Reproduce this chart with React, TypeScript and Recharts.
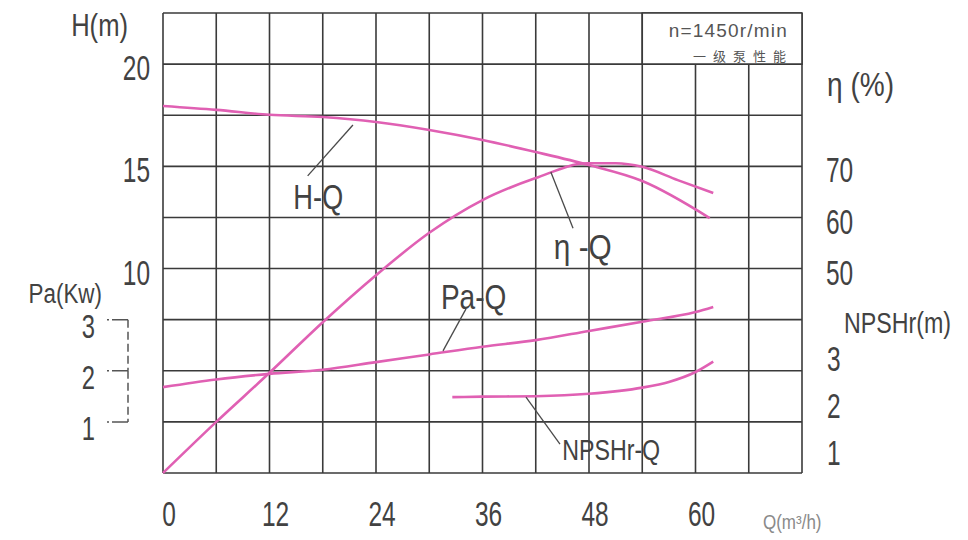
import React from 'react'
import {
  LineChart,
  Line,
  XAxis,
  YAxis,
  CartesianGrid,
  ReferenceLine,
  ReferenceDot,
  ReferenceArea,
} from 'recharts'

const CHART_W = 968
const CHART_H = 540
const PLOT_H = 460

// flow Q (m3/h) – grid every 6, labels every 12
const qTicks = [0, 6, 12, 18, 24, 30, 36, 42, 48, 54, 60, 66, 72]
const qLabels = [0, 12, 24, 36, 48, 60]

// H-Q
const headQ = [0, 6, 12, 18, 24, 30, 36, 42, 48, 54, 61.6]
const headH = [17.95, 17.76, 17.52, 17.41, 17.17, 16.78, 16.29, 15.7, 15.06, 14.28, 12.47]

// η-Q
const effQ = [0, 6, 12, 18, 24, 30, 36, 42, 47.8, 51, 54, 58, 62]
const effEta = [10, 20, 29.6, 39.5, 48.7, 57, 63.4, 67.7, 70.6, 70.6, 69.9, 67.3, 64.8]

// Pa-Q
const powerQ = [0, 6, 12, 18, 24, 30, 36, 42, 48, 54, 60, 62]
const powerPa = [1.68, 1.83, 1.94, 2.02, 2.17, 2.32, 2.47, 2.6, 2.78, 2.96, 3.15, 3.25]

// NPSHr-Q
const npshQ = [32.6, 36, 42, 48, 54, 57, 60, 62]
const npshR = [2.1, 2.11, 2.12, 2.17, 2.3, 2.42, 2.63, 2.85]

const hTicks = [0, 2.5, 5, 7.5, 10, 12.5, 15, 17.5, 20, 22.5]
const hLabels = [10, 15, 20]
const etaTicks = [50, 60, 70]
const paTicks = [1, 2, 3]
const npshTicks = [1, 2, 3]

const toRows = (xs: number[], ys: number[]) => xs.map((q, i) => ({ q, v: ys[i] }))

const FONT = "'Liberation Sans', Arial, sans-serif"
const INK = '#424242'
const GRID = '#3a3a3a'
const CURVE = '#e060b3'
const LEADER = '#4a4a4a'

// condensed-looking text: regular sans squeezed horizontally
function Txt({ x, y, size, sx = 0.7, anchor = 'start', fill = INK, family = FONT, spacing, children }: any) {
  return (
    <text
      transform={`translate(${x} ${y}) scale(${sx} 1)`}
      textAnchor={anchor}
      dominantBaseline="central"
      fontSize={size}
      fontFamily={family}
      letterSpacing={spacing}
      fill={fill}
    >
      {children}
    </text>
  )
}

function QTick({ x, y, payload }: any) {
  if (!qLabels.includes(payload.value)) return <g />
  return <Txt x={x + 6} y={y + 41} size={35} anchor="middle">{payload.value}</Txt>
}

function HTick({ x, y, payload }: any) {
  if (!hLabels.includes(payload.value)) return <g />
  return <Txt x={x - 13} y={y + 4} size={35} anchor="end">{payload.value}</Txt>
}

function RightTick({ x, y, payload }: any) {
  return <Txt x={x + 24} y={y + 4} size={35}>{payload.value}</Txt>
}

// Pa ticks with the little dashed bracket
function PaTick({ x, y, payload }: any) {
  const v = payload.value
  const step = PLOT_H / 9
  return (
    <g>
      <Txt x={x - 33} y={y + 7} size={33} sx={0.72} anchor="end">{v}</Txt>
      <line x1={x - 21} x2={x} y1={y} y2={y} stroke="#555" strokeWidth={1.5} strokeDasharray="2 3 16" />
      {v > 1 && (
        <line x1={x} x2={x} y1={y} y2={y + step} stroke="#555" strokeWidth={1.5} strokeDasharray="8 4" />
      )}
    </g>
  )
}

function BoxLabel({ viewBox }: any) {
  const { x, y, width } = viewBox
  const r = x + width - 14
  return (
    <g>
      <Txt x={r} y={y + 17} size={19} sx={1} spacing={1.2} anchor="end" fill="#555">n=1450r/min</Txt>
      <text x={r + 5} y={y + 42} textAnchor="end" dominantBaseline="central"
        fontFamily="'Noto Sans CJK SC', sans-serif" fontSize={13} letterSpacing={7} fill="#555">
        一级泵性能
      </text>
    </g>
  )
}

function CurveName({ viewBox, text, size, sx }: any) {
  const cx = viewBox.x + viewBox.width / 2
  const cy = viewBox.y + viewBox.height / 2
  return <Txt x={cx} y={cy} size={size} sx={sx} anchor="middle">{text}</Txt>
}

export default function App() {
  return (
    <div style={{ position: 'absolute', left: 0, top: 0, width: CHART_W, height: CHART_H, background: '#fff' }}>
      <LineChart width={CHART_W} height={CHART_H} margin={{ top: 13, right: 0, bottom: 0, left: 0 }}>
        <CartesianGrid yAxisId="h" stroke={GRID} strokeWidth={1.6} />
        <XAxis
          type="number"
          dataKey="q"
          domain={[0, 72]}
          ticks={qTicks}
          interval={0}
          height={67}
          axisLine={false}
          tickLine={false}
          tickSize={0}
          tickMargin={0}
          tick={<QTick />}
          label={(p: any) => (
            <Txt x={p.viewBox.x + p.viewBox.width - 39} y={p.viewBox.y + 49} size={20} sx={0.85} fill="#8a8a8a">
              Q(m³/h)
            </Txt>
          )}
        />
        <YAxis
          yAxisId="h"
          type="number"
          domain={[0, 22.5]}
          ticks={hTicks}
          interval={0}
          width={35}
          axisLine={false}
          tickLine={false}
          tickSize={0}
          tickMargin={0}
          tick={<HTick />}
          label={(p: any) => (
            <Txt x={p.viewBox.x} y={p.viewBox.y + 12} size={32} sx={0.8} anchor="end">H(m)</Txt>
          )}
        />
        <YAxis
          yAxisId="pa"
          type="number"
          domain={[0, 9]}
          ticks={paTicks}
          interval={0}
          width={128}
          axisLine={false}
          tickLine={false}
          tickSize={0}
          tickMargin={0}
          tick={<PaTick />}
          label={(p: any) => (
            <Txt x={p.viewBox.x + p.viewBox.width - 26} y={p.viewBox.y + 280} size={28} sx={0.8} anchor="end">
              Pa(Kw)
            </Txt>
          )}
        />
        <YAxis
          yAxisId="eta"
          orientation="right"
          type="number"
          domain={[10, 100]}
          ticks={etaTicks}
          interval={0}
          width={1}
          axisLine={false}
          tickLine={false}
          tickSize={0}
          tickMargin={0}
          tick={<RightTick />}
          label={(p: any) => (
            <Txt x={p.viewBox.x + 25} y={p.viewBox.y + 71} size={33} sx={0.85}>η (%)</Txt>
          )}
        />
        <YAxis
          yAxisId="npsh"
          orientation="right"
          type="number"
          domain={[0.5, 10.2]}
          ticks={npshTicks}
          interval={0}
          width={165}
          axisLine={false}
          tickLine={false}
          tickSize={0}
          tickMargin={0}
          tick={<RightTick />}
          label={(p: any) => (
            <Txt x={p.viewBox.x + 41} y={p.viewBox.y + 310} size={29} sx={0.8}>NPSHr(m)</Txt>
          )}
        />

        <ReferenceArea yAxisId="h" x1={54} x2={72} y1={20} y2={22.5} fill="#fff" fillOpacity={1}
          stroke={GRID} strokeWidth={1.6} label={<BoxLabel />} />

        <Line yAxisId="h" data={toRows(headQ, headH)} dataKey="v" type="monotone" stroke={CURVE}
          strokeWidth={2.6} dot={false} activeDot={false} isAnimationActive={false} />
        <Line yAxisId="eta" data={toRows(effQ, effEta)} dataKey="v" type="monotone" stroke={CURVE}
          strokeWidth={2.6} dot={false} activeDot={false} isAnimationActive={false} />
        <Line yAxisId="pa" data={toRows(powerQ, powerPa)} dataKey="v" type="monotone" stroke={CURVE}
          strokeWidth={2.6} dot={false} activeDot={false} isAnimationActive={false} />
        <Line yAxisId="npsh" data={toRows(npshQ, npshR)} dataKey="v" type="monotone" stroke={CURVE}
          strokeWidth={2.6} dot={false} activeDot={false} isAnimationActive={false} />

        {/* curve name leaders */}
        <ReferenceLine yAxisId="h" segment={[{ x: 21.4, y: 17.02 }, { x: 16.3, y: 14.53 }]}
          stroke={LEADER} strokeWidth={1.3} />
        <ReferenceDot yAxisId="h" x={17.5} y={13.5} r={0} fill="none" stroke="none"
          label={<CurveName text="H-Q" size={35} sx={0.78} />} />

        <ReferenceLine yAxisId="eta" segment={[{ x: 43.7, y: 68.9 }, { x: 46.2, y: 57.9 }]}
          stroke={LEADER} strokeWidth={1.3} />
        <ReferenceDot yAxisId="eta" x={47.3} y={54.2} r={0} fill="none" stroke="none"
          label={<CurveName text="η -Q" size={35} sx={0.85} />} />

        <ReferenceLine yAxisId="pa" segment={[{ x: 31.55, y: 2.39 }, { x: 34.14, y: 3.21 }]}
          stroke={LEADER} strokeWidth={1.3} />
        <ReferenceDot yAxisId="pa" x={35.0} y={3.44} r={0} fill="none" stroke="none"
          label={<CurveName text="Pa-Q" size={35} sx={0.8} />} />

        <ReferenceLine yAxisId="npsh" segment={[{ x: 40.9, y: 2.1 }, { x: 44.73, y: 1.11 }]}
          stroke={LEADER} strokeWidth={1.3} />
        <ReferenceDot yAxisId="npsh" x={50.5} y={0.985} r={0} fill="none" stroke="none"
          label={<CurveName text="NPSHr-Q" size={29} sx={0.8} />} />
      </LineChart>
    </div>
  )
}
